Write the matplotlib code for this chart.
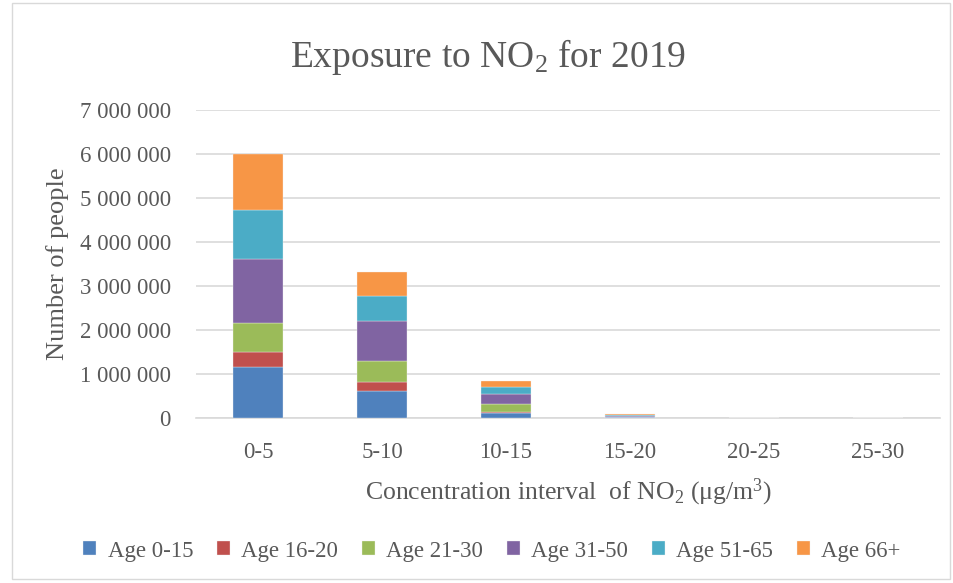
import matplotlib.pyplot as plt
from matplotlib.patches import Rectangle
from matplotlib.ticker import FuncFormatter

plt.rcParams['font.family'] = ['Liberation Serif', 'DejaVu Serif']
plt.rcParams['mathtext.fontset'] = 'custom'
plt.rcParams['mathtext.rm'] = 'Liberation Serif'
plt.rcParams['mathtext.it'] = 'Liberation Serif:italic'

intervals = ['0-5', '5-10', '10-15', '15-20', '20-25', '25-30']
groups = ['Age 0-15', 'Age 16-20', 'Age 21-30', 'Age 31-50', 'Age 51-65', 'Age 66+']
colors = ['#4f81bd', '#c0504d', '#9bbb59', '#8064a2', '#4bacc6', '#f79646']

# people per age group, one value per concentration interval
age_0_15 = [1150000, 620000, 107000, 14000, 500, 100]
age_16_20 = [340000, 195000, 40000, 4000, 200, 50]
age_21_30 = [680000, 490000, 166000, 12000, 500, 100]
age_31_50 = [1445000, 910000, 235000, 22000, 800, 200]
age_51_65 = [1120000, 560000, 150000, 26000, 700, 150]
age_66 = [1257000, 550000, 136000, 10000, 400, 100]
series = [age_0_15, age_16_20, age_21_30, age_31_50, age_51_65, age_66]

yticks = [0, 1000000, 2000000, 3000000, 4000000, 5000000, 6000000, 7000000]

text_col = '#595959'
grid_col = '#d9d9d9'

fig = plt.figure(figsize=(9.54, 5.83), dpi=100)
ax = fig.add_axes([196 / 954, 1 - 418 / 583, 744 / 954, 308 / 583])

x = range(len(intervals))
bottom = [0] * len(intervals)
for name, vals, col in zip(groups, series, colors):
    ax.bar(x, vals, width=0.4, bottom=bottom, color=col, label=name,
           edgecolor='#f2f2f2', linewidth=0.25, zorder=3)
    bottom = [b + v for b, v in zip(bottom, vals)]

ax.set_xlim(-0.5, len(intervals) - 0.5)
ax.set_ylim(0, 7000000)
ax.set_yticks(yticks)
ax.yaxis.set_major_formatter(FuncFormatter(lambda v, p: f'{int(v):,}'.replace(',', ' ')))
ax.set_xticks(list(x))
ax.set_xticklabels(intervals)
ax.grid(axis='y', color=grid_col, linewidth=1.2, zorder=0)
for s in ['left', 'right', 'top']:
    ax.spines[s].set_visible(False)
ax.spines['bottom'].set_color(grid_col)
ax.spines['bottom'].set_linewidth(1.2)
ax.tick_params(axis='both', length=0, labelsize=16.5, colors=text_col)
ax.tick_params(axis='x', pad=17)
ax.tick_params(axis='y', pad=18)

ax.set_xlabel('Concentration interval  of NO$_2$ (μg/m$^3$)', fontsize=18.5,
              color=text_col, labelpad=10)
ax.set_ylabel('Number of people', fontsize=19, color=text_col, labelpad=8)

fig.text(488 / 954, 1 - 57 / 583, 'Exposure to NO$_2$ for 2019', fontsize=27,
         color=text_col, ha='center', va='center')

fig.legend(loc='center', bbox_to_anchor=(492 / 954, 1 - 551 / 583), ncol=6,
           frameon=False, fontsize=16.5, handlelength=0.55, handleheight=0.55,
           columnspacing=1.05, handletextpad=0.5, labelcolor=text_col)

fig.patches.append(Rectangle((12 / 954, 4 / 583), 938 / 954, 576 / 583,
                             transform=fig.transFigure, fill=False,
                             edgecolor=grid_col, linewidth=1))

fig.savefig('out.png', dpi=100)
